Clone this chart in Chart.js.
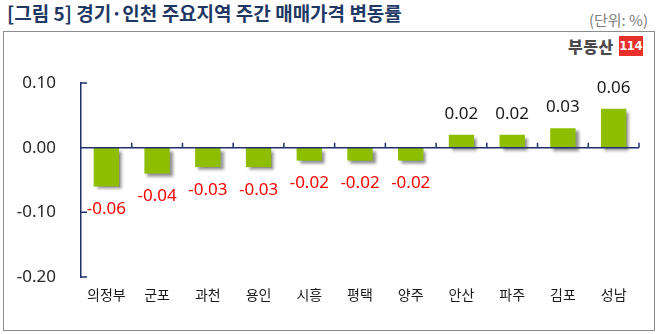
<!DOCTYPE html>
<html>
<head>
<meta charset="utf-8">
<script src="https://cdn.jsdelivr.net/npm/chart.js@4.4.0/dist/chart.umd.min.js"></script>
<style>
  body { margin: 0; width: 658px; height: 334px; background: #fff; position: relative; overflow: hidden;
         font-family: "Noto Sans", "Noto Sans CJK KR", sans-serif; }
  #title { position: absolute; left: 7px; top: -1px; font-size: 19px; font-weight: bold; color: #1f3864;
           font-family: "Noto Sans CJK KR", sans-serif; }
  #unit { position: absolute; right: 10px; top: 9px; font-size: 15px; color: #808080;
          font-family: "Noto Sans CJK KR", sans-serif; }
  #frame { position: absolute; left: 3px; top: 31px; width: 650px; height: 298px; border: 1px solid #8c8c8c; }
  #logo { position: absolute; left: 568px; top: 36px; height: 20px; display: flex; align-items: center; }
  #logo .txt { font-family: "Noto Sans CJK KR", sans-serif; font-weight: 900; font-size: 16px; color: #4a4a4a; letter-spacing: 0.5px; }
  #logo .num { margin-left: 5px; background: #e8302a; color: #fff; font-weight: bold; font-size: 13px;
               height: 20px; line-height: 20px; width: 24px; text-align: center; letter-spacing: -0.5px;
               font-family: "Liberation Sans Narrow", "DejaVu Sans Condensed", sans-serif; }
  canvas { position: absolute; left: 0; top: 0; }
</style>
</head>
<body>
<div id="title">[그림 5] 경기·인천 주요지역 주간 매매가격 변동률</div>
<div id="unit">(단위: %)</div>
<div id="frame"></div>
<div id="logo"><span class="txt">부동산</span><span class="num">114</span></div>
<canvas id="myChart" width="658" height="334"></canvas>
<script>
const regions = ['의정부', '군포', '과천', '용인', '시흥', '평택', '양주', '안산', '파주', '김포', '성남']
const changes = [-0.06, -0.04, -0.03, -0.03, -0.02, -0.02, -0.02, 0.02, 0.02, 0.03, 0.06]
const yTicks = [0.1, 0, -0.1, -0.2]

const axisColor = '#1f2f6b'
const numFont = '"Noto Sans", "Noto Sans CJK KR", sans-serif'

// drop shadow under the bars
const barShadow = {
  id: 'barShadow',
  beforeDatasetDraw(chart) {
    const ctx = chart.ctx
    ctx.save()
    ctx.shadowColor = 'rgba(0,0,0,0.45)'
    ctx.shadowBlur = 3
    ctx.shadowOffsetX = 3
    ctx.shadowOffsetY = 3
  },
  afterDatasetDraw(chart) {
    chart.ctx.restore()
  }
}

// zero line, inner tick marks, value labels
const axisAndLabels = {
  id: 'axisAndLabels',
  afterDatasetsDraw(chart) {
    const ctx = chart.ctx
    const y = chart.scales.y
    const area = chart.chartArea
    const y0 = y.getPixelForValue(0)

    ctx.save()
    ctx.strokeStyle = axisColor
    ctx.lineWidth = 1.5
    ctx.beginPath()
    ctx.moveTo(area.left, y0)
    ctx.lineTo(area.right, y0)
    // y ticks pointing inside
    yTicks.forEach(v => {
      const py = y.getPixelForValue(v)
      ctx.moveTo(area.left, py)
      ctx.lineTo(area.left + 6, py)
    })
    // category boundaries pointing up from zero line
    const step = (area.right - area.left) / regions.length
    for (let i = 1; i <= regions.length; i++) {
      const px = area.left + step * i
      ctx.moveTo(px, y0)
      ctx.lineTo(px, y0 - 5)
    }
    ctx.stroke()

    // value labels
    ctx.font = '17px ' + numFont
    ctx.textAlign = 'center'
    ctx.textBaseline = 'middle'
    const meta = chart.getDatasetMeta(0)
    meta.data.forEach((bar, i) => {
      const v = changes[i]
      if (v < 0) {
        ctx.fillStyle = '#ff0000'
        ctx.fillText(v.toFixed(2), bar.x, bar.y + 23)
      } else {
        ctx.fillStyle = '#1a1a1a'
        ctx.fillText(v.toFixed(2), bar.x, bar.y - 21)
      }
    })
    ctx.restore()
  }
}

new Chart(document.getElementById('myChart'), {
  type: 'bar',
  data: {
    labels: regions,
    datasets: [{
      data: changes,
      backgroundColor: '#8fbe00',
      categoryPercentage: 1,
      barPercentage: 0.5
    }]
  },
  options: {
    responsive: false,
    animation: false,
    layout: { padding: { left: 0, top: 83, right: 19, bottom: 27 } },
    plugins: { legend: { display: false }, tooltip: { enabled: false } },
    scales: {
      x: {
        grid: { display: false, drawTicks: false },
        border: { display: false },
        ticks: { color: '#1a1a1a', font: { size: 14, family: '"Noto Sans CJK KR", sans-serif' }, padding: 9 },
        afterFit(scale) { scale.height = 30 }
      },
      y: {
        min: -0.2,
        max: 0.1,
        afterBuildTicks(scale) { scale.ticks = yTicks.map(v => ({ value: v })) },
        grid: { display: false, drawTicks: false },
        border: { display: true, color: axisColor, width: 1.5 },
        ticks: {
          color: '#262626',
          font: { size: 17, family: numFont },
          padding: 25,
          callback: v => v.toFixed(2)
        },
        afterFit(scale) { scale.width = 81 }
      }
    }
  },
  plugins: [barShadow, axisAndLabels]
})
</script>
</body>
</html>
